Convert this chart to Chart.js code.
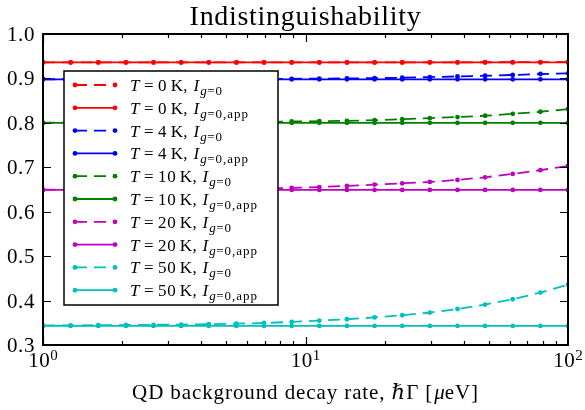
<!DOCTYPE html>
<html>
<head>
<meta charset="utf-8">
<script src="https://cdn.jsdelivr.net/npm/chart.js@4.4.0/dist/chart.umd.min.js"></script>
<style>
    html, body { margin: 0; padding: 0; background: #fff; }
    #wrap { width: 585px; height: 410px; }
</style>
</head>
<body>
<div id="wrap"><canvas id="chart" width="585" height="410"></canvas></div>
<script>
    // QD background decay rate (x), log spaced
    const gammaRate = [1, 1.274, 1.624, 2.069, 2.637, 3.360, 4.281, 5.456, 6.952, 8.859,
                       11.29, 14.38, 18.33, 23.36, 29.76, 37.93, 48.33, 61.58, 78.48, 100];

    // Indistinguishability, full (dashed) and approximate (solid)
    const indist0K     = [0.936, 0.936, 0.936, 0.936, 0.936, 0.936, 0.936, 0.936, 0.936, 0.936,
                          0.936, 0.936, 0.936, 0.936, 0.9362, 0.9363, 0.9364, 0.9365, 0.9367, 0.937];
    const indist0KApp  = [0.936, 0.936, 0.936, 0.936, 0.936, 0.936, 0.936, 0.936, 0.936, 0.936,
                          0.936, 0.936, 0.936, 0.936, 0.936, 0.936, 0.936, 0.936, 0.936, 0.936];
    const indist4K     = [0.8981, 0.8982, 0.8982, 0.8983, 0.8983, 0.8984, 0.8986, 0.8987, 0.8989, 0.8992,
                          0.8995, 0.9, 0.9006, 0.9015, 0.903, 0.9045, 0.906, 0.9078, 0.91, 0.9115];
    const indist4KApp  = [0.898, 0.898, 0.898, 0.898, 0.898, 0.898, 0.898, 0.898, 0.898, 0.898,
                          0.898, 0.898, 0.898, 0.898, 0.898, 0.898, 0.898, 0.898, 0.898, 0.898];
    const indist10K    = [0.8003, 0.8004, 0.8005, 0.8006, 0.8008, 0.801, 0.8013, 0.8017, 0.8022, 0.803,
                          0.8038, 0.8045, 0.806, 0.8083, 0.8106, 0.813, 0.816, 0.8203, 0.825, 0.831];
    const indist10KApp = [0.8, 0.8, 0.8, 0.8, 0.8, 0.8, 0.8, 0.8, 0.8, 0.8,
                          0.8, 0.8, 0.8, 0.8, 0.8, 0.8, 0.8, 0.8, 0.8, 0.8];
    const indist20K    = [0.6495, 0.6497, 0.6499, 0.65, 0.6504, 0.6508, 0.6513, 0.652, 0.6527, 0.6535,
                          0.6555, 0.658, 0.661, 0.664, 0.667, 0.6715, 0.6775, 0.685, 0.6935, 0.703];
    const indist20KApp = [0.649, 0.649, 0.649, 0.649, 0.649, 0.649, 0.649, 0.649, 0.649, 0.649,
                          0.649, 0.649, 0.649, 0.649, 0.649, 0.649, 0.649, 0.649, 0.649, 0.649];
    const indist50K    = [0.344, 0.344, 0.3445, 0.345, 0.3455, 0.346, 0.347, 0.348, 0.3495, 0.352,
                          0.355, 0.358, 0.362, 0.367, 0.373, 0.381, 0.391, 0.403, 0.418, 0.436];
    const indist50KApp = [0.343, 0.343, 0.343, 0.343, 0.343, 0.343, 0.343, 0.343, 0.343, 0.343,
                          0.343, 0.343, 0.343, 0.343, 0.343, 0.343, 0.343, 0.343, 0.343, 0.343];

    const temperatures = ['0', '4', '10', '20', '50'];
    const fullSeries = [indist0K, indist4K, indist10K, indist20K, indist50K];
    const appSeries = [indist0KApp, indist4KApp, indist10KApp, indist20KApp, indist50KApp];
    const seriesColors = ['#ff0000', '#0000ff', '#008000', '#bf00bf', '#00bfbf'];

    const yTicks = [0.3, 0.4, 0.5, 0.6, 0.7, 0.8, 0.9, 1.0];
    const yTickLabels = ['0.3', '0.4', '0.5', '0.6', '0.7', '0.8', '0.9', '1.0'];
    const xMajorTicks = [1, 10, 100];
    const xMajorExponents = ['0', '1', '2'];

    const titleText = 'Indistinguishability';
    const SERIF = '"Liberation Serif", "DejaVu Serif", serif';

    function makeDataset(values, color, temp, app, idx) {
        return {
            label: 'T = ' + temp + ' K, I_g=0' + (app ? ',app' : ''),
            tempLabel: temp,
            approx: app,
            data: gammaRate.map((g, k) => ({ x: g, y: values[k] })),
            borderColor: color,
            backgroundColor: color,
            pointBackgroundColor: color,
            pointBorderWidth: 0,
            pointRadius: 2.4,
            borderWidth: 1.8,
            borderDash: app ? [] : [12, 7],
            tension: 0,
            clip: 0,
            order: -idx
        };
    }

    const datasets = [];
    temperatures.forEach((t, i) => {
        datasets.push(makeDataset(fullSeries[i], seriesColors[i], t, false, datasets.length));
        datasets.push(makeDataset(appSeries[i], seriesColors[i], t, true, datasets.length));
    });

    // draw a run of text pieces (italic / subscripts)
    function setFont(ctx, p) {
        ctx.font = (p.it ? 'italic ' : '') + p.size + 'px ' + SERIF;
        ctx.letterSpacing = (p.ls || 0) + 'px';
    }

    function drawRich(ctx, parts, x, y, align) {
        let total = 0;
        parts.forEach(p => {
            setFont(ctx, p);
            total += ctx.measureText(p.t).width + (p.gap || 0);
        });
        let cx = align === 'center' ? x - total / 2 : x;
        ctx.textAlign = 'left';
        ctx.textBaseline = 'alphabetic';
        parts.forEach(p => {
            setFont(ctx, p);
            ctx.fillText(p.t, cx, y + (p.dy || 0));
            cx += ctx.measureText(p.t).width + (p.gap || 0);
        });
        ctx.letterSpacing = '0px';
    }

    const axesPlugin = {
        id: 'axesPlugin',
        afterDraw(chart) {
            const ctx = chart.ctx;
            const area = chart.chartArea;
            const xs = chart.scales.x;
            const ys = chart.scales.y;
            ctx.save();
            ctx.fillStyle = '#000';
            ctx.strokeStyle = '#000';

            // ticks (inward, all four sides)
            ctx.lineWidth = 1.2;
            ctx.beginPath();
            yTicks.forEach(v => {
                const py = Math.round(ys.getPixelForValue(v)) + 0.5;
                ctx.moveTo(area.left, py); ctx.lineTo(area.left + 8, py);
                ctx.moveTo(area.right, py); ctx.lineTo(area.right - 8, py);
            });
            for (let dec = 1; dec < 100; dec *= 10) {
                for (let m = 1; m < 10; m++) {
                    const v = dec * m;
                    const len = m === 1 ? 8 : 4;
                    const px = Math.round(xs.getPixelForValue(v)) + 0.5;
                    ctx.moveTo(px, area.bottom); ctx.lineTo(px, area.bottom - len);
                    ctx.moveTo(px, area.top); ctx.lineTo(px, area.top + len);
                }
            }
            ctx.stroke();

            // frame
            ctx.lineWidth = 2;
            ctx.strokeRect(area.left, area.top, area.right - area.left, area.bottom - area.top);

            // y tick labels
            yTicks.forEach((v, i) => {
                drawRich(ctx, [{ t: yTickLabels[i], size: 21, ls: 0.6 }], 7, ys.getPixelForValue(v) + 7, 'left');
            });

            // x tick labels 10^n
            xMajorTicks.forEach((v, i) => {
                drawRich(ctx, [
                    { t: '10', size: 21, ls: 0.5 },
                    { t: xMajorExponents[i], size: 15, dy: -7 }
                ], xs.getPixelForValue(v), 367, 'center');
            });

            // title
            drawRich(ctx, [{ t: titleText, size: 28, ls: 0.7 }], (area.left + area.right) / 2, 25, 'center');

            // x axis label
            drawRich(ctx, [
                { t: 'QD background decay rate, ', size: 21, ls: 0.9 },
                { t: 'ℏ', size: 21, it: true, gap: 1 },
                { t: 'Γ [', size: 21, ls: 0.9, gap: 1 },
                { t: 'μ', size: 21, it: true },
                { t: 'eV]', size: 21, ls: 0.9 }
            ], (area.left + area.right) / 2, 399, 'center');

            // legend
            const box = { x: 64, y: 71, w: 214, h: 234 };
            ctx.fillStyle = '#fff';
            ctx.fillRect(box.x, box.y, box.w, box.h);
            ctx.lineWidth = 1.5;
            ctx.strokeStyle = '#000';
            ctx.strokeRect(box.x, box.y, box.w, box.h);
            chart.data.datasets.forEach((ds, i) => {
                const cy = 85 + i * 22.8;
                ctx.strokeStyle = ds.borderColor;
                ctx.lineWidth = ds.borderWidth;
                ctx.setLineDash(ds.borderDash);
                ctx.beginPath();
                ctx.moveTo(75, cy); ctx.lineTo(115, cy);
                ctx.stroke();
                ctx.setLineDash([]);
                ctx.fillStyle = ds.borderColor;
                [75, 115].forEach(px => {
                    ctx.beginPath();
                    ctx.arc(px, cy, ds.pointRadius, 0, Math.PI * 2);
                    ctx.fill();
                });
                ctx.fillStyle = '#000';
                const parts = [
                    { t: 'T', it: true, size: 17, gap: 4.5 },
                    { t: '=', size: 17, gap: 4.5 },
                    { t: ds.tempLabel, size: 17, ls: 0.6, gap: 3.5 },
                    { t: 'K,', size: 17, ls: 0.4, gap: 5.5 },
                    { t: 'I', it: true, size: 17, gap: 1 },
                    { t: 'g', it: true, size: 13, ls: 0.5, dy: 4 },
                    { t: '=0' + (ds.approx ? ',app' : ''), size: 13, ls: 1, dy: 4 }
                ];
                drawRich(ctx, parts, 130, cy + 6, 'left');
            });
            ctx.restore();
        }
    };

    new Chart(document.getElementById('chart'), {
        type: 'line',
        data: { datasets: datasets },
        options: {
            responsive: false,
            animation: false,
            events: [],
            layout: { padding: { left: 43, right: 17, top: 34, bottom: 65 } },
            plugins: {
                legend: { display: false },
                tooltip: { enabled: false },
                title: { display: false }
            },
            scales: {
                x: { type: 'logarithmic', min: 1, max: 100, display: false },
                y: { type: 'linear', min: 0.3, max: 1.0, display: false }
            }
        },
        plugins: [axesPlugin]
    });
</script>
</body>
</html>
